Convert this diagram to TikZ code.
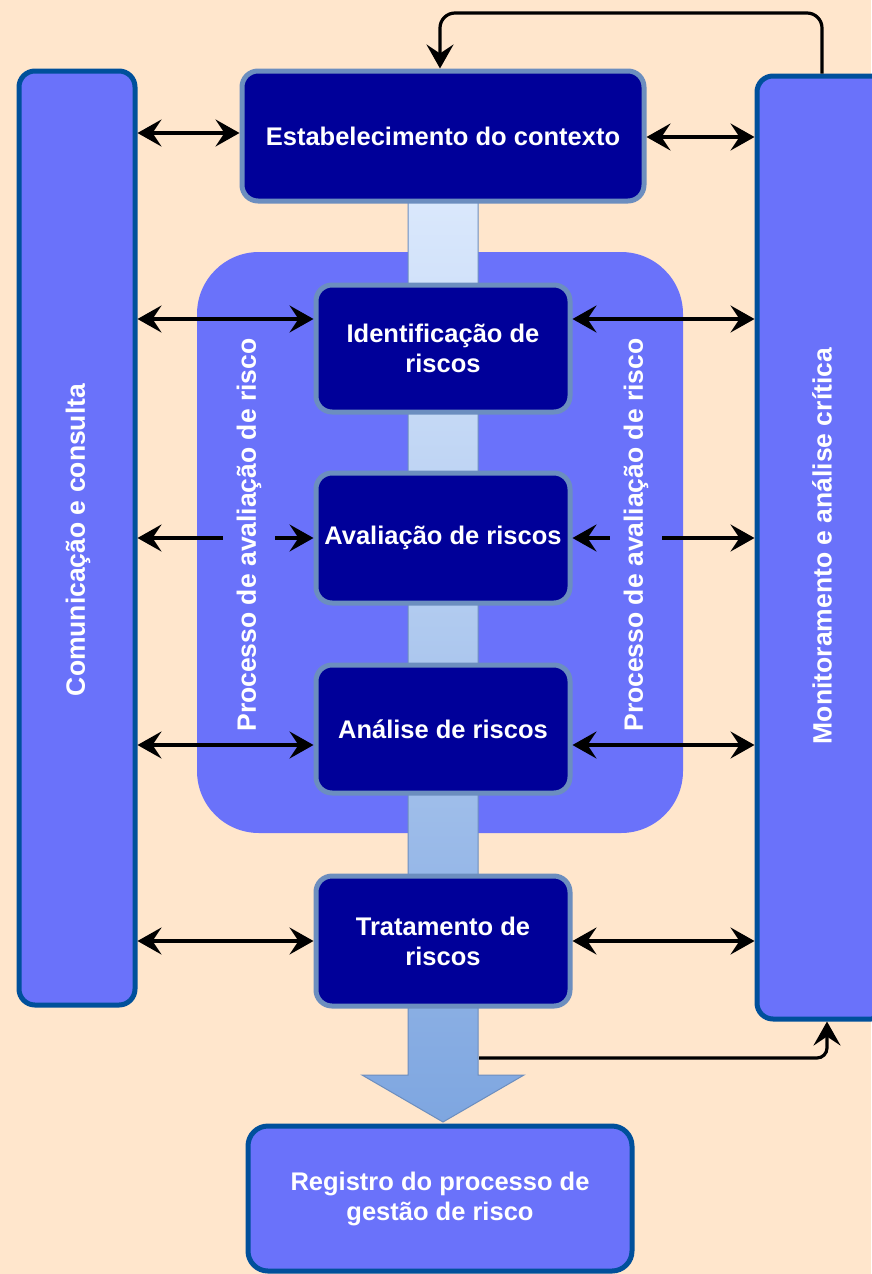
\documentclass[tikz,border=0pt]{standalone}
\usepackage{fontspec}
\setmainfont{Liberation Sans}
\usetikzlibrary{arrows.meta}
\definecolor{bgc}{HTML}{FFE6CC}
\definecolor{colfill}{HTML}{6A72FA}
\definecolor{colborder}{HTML}{00509B}
\definecolor{darkfill}{HTML}{000099}
\definecolor{darkborder}{HTML}{6C8EBF}
\definecolor{shafttop}{HTML}{DAE8FC}
\definecolor{shaftbot}{HTML}{7EA6E0}
\begin{document}
\begin{tikzpicture}[x=1pt,y=-1pt,
  txt/.style={text=white, font=\fontsize{25.5}{30}\selectfont\bfseries, align=center},
  colbox/.style={draw=colborder, fill=colfill, line width=5pt, rounded corners=16pt, outer sep=auto, inner sep=0pt},
  darkbox/.style={txt, draw=darkborder, fill=darkfill, line width=5pt, rounded corners=16pt, outer sep=auto, inner sep=0pt, minimum width=254pt},
  regbox/.style={txt, draw=colborder, fill=colfill, line width=5pt, rounded corners=20pt, outer sep=auto, inner sep=0pt},
  grpbox/.style={fill=colfill, rounded corners=62pt, inner sep=0pt},
  lab/.style={txt, font=\fontsize{26.5}{30}\selectfont\bfseries, inner sep=0pt, rotate=90},
  tip/.tip={Stealth[length=24pt,width=27pt,inset=9pt]},
  biarr/.style={line width=3.2pt, black, {tip}-{tip}},
  conn/.style={line width=3.2pt, black, -{tip}}
]
\useasboundingbox (0,0) rectangle (871,1274);
\fill[bgc] (0,0) rectangle (871,1274);

% inner group
\node[grpbox, minimum width=486pt, minimum height=581pt] (grp) at (440,542.5) {};

% shaft (big arrow)
\shade[top color=shafttop, bottom color=shaftbot]
  (408,200) -- (408,1075) -- (362,1075) -- (443,1122) -- (524,1075) -- (478,1075) -- (478,200) -- cycle;
\draw[darkborder, line width=1pt]
  (408,200) -- (408,1075) -- (362,1075) -- (443,1122) -- (524,1075) -- (478,1075) -- (478,200) -- cycle;
\coordinate (shaftR) at (479,1058);

% side columns
\node[colbox, minimum width=116pt, minimum height=934pt] (colL) at (77,538) {};
\node[colbox, minimum width=130pt, minimum height=943pt] (colR) at (822,547.5) {};

% process boxes
\node[darkbox, minimum width=402pt, minimum height=130pt] (estab) at (443,136) {Estabelecimento do contexto};
\node[darkbox, minimum height=127pt] (ident) at (443,348.5) {Identificação de\\riscos};
\node[darkbox, minimum height=130pt] (aval) at (443,538) {Avaliação de riscos};
\node[darkbox, minimum height=128pt] (anal) at (443,729) {Análise de riscos};
\node[darkbox, minimum height=130pt] (trat) at (443,941) {Tratamento de\\riscos};
\node[regbox, minimum width=384pt, minimum height=145pt] (reg) at (440,1198.5) {Registro do processo de\\gestão de risco};

% horizontal double arrows
\draw[biarr] (colL.east |- 0,133) -- (estab.west |- 0,133);
\draw[biarr] (estab.east |- 0,137) -- (colR.west |- 0,137);
\draw[biarr] (colL.east |- 0,319) -- (ident.west |- 0,319);
\draw[biarr] (ident.east |- 0,319) -- (colR.west |- 0,319);
\draw[biarr] (colL.east |- 0,538) -- (aval.west |- 0,538);
\draw[biarr] (aval.east |- 0,538) -- (colR.west |- 0,538);
\draw[biarr] (colL.east |- 0,745) -- (anal.west |- 0,745);
\draw[biarr] (anal.east |- 0,745) -- (colR.west |- 0,745);
\draw[biarr] (colL.east |- 0,941) -- (trat.west |- 0,941);
\draw[biarr] (trat.east |- 0,941) -- (colR.west |- 0,941);

% feedback connectors
\draw[conn, rounded corners=15pt] (colR.north) |- (440,13) -- (440,0 |- estab.north);
\draw[conn, rounded corners=10pt] (shaftR) -| (827,0 |- colR.south);

% vertical labels
\node[lab] (comLab) at (78,540) {Comunicação e consulta};
\node[lab] (monLab) at (822,546) {Monitoramento e análise crítica};
\node[lab, fill=colfill, inner xsep=3pt, inner ysep=14pt] (procL) at (249,535) {Processo de avaliação de risco};
\node[lab, fill=colfill, inner xsep=3pt, inner ysep=14pt] (procR) at (636,535) {Processo de avaliação de risco};
\end{tikzpicture}
\end{document}
